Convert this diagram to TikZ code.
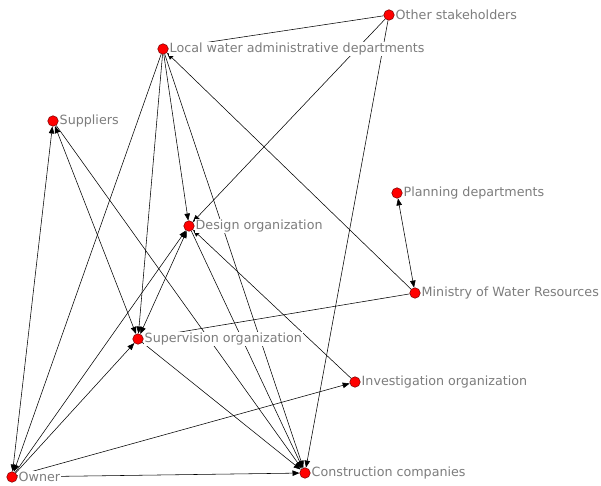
\documentclass[tikz,border=0pt]{standalone}
\usepackage{fontspec}
\newfontfamily\netfont{DejaVu Sans}
\usetikzlibrary{arrows.meta}
\pgfdeclarelayer{ties}
\pgfsetlayers{ties,main}
\definecolor{actorred}{RGB}{255,0,0}
\definecolor{labelgray}{RGB}{125,125,125}
\tikzset{%
  every actor/.style={
    circle,
    draw=red!45!black,
    fill=actorred,
    line width=0.5pt,
    minimum size=10.5pt,
    inner sep=0pt
  },
  actor label/.style={
    fill=white,
    text=labelgray,
    inner sep=1pt,
    font=\netfont\fontsize{12.7}{14}\selectfont
  },
}

\begin{document}
\begin{tikzpicture}[x=1pt,y=-1pt]
    \useasboundingbox (0,0) rectangle (601,486);
    \tikzstyle{tie}=[line width=0.55pt,>={Triangle[length=7pt,width=5.5pt]}]
    \node[every actor,label={[actor label]right:Other stakeholders}](os) at (389,15){};
    \node[every actor,label={[actor label]right:Local water administrative departments}](lw) at (163,49){};
    \node[every actor,label={[actor label]right:Suppliers}](su) at (53,121){};
    \node[every actor,label={[actor label]right:Planning departments}](pd) at (397,193){};
    \node[every actor,label={[actor label]right:Design organization}](do) at (189,226){};
    \node[every actor,label={[actor label]right:Ministry of Water Resources}](mw) at (415,293){};
    \node[every actor,label={[actor label]right:Supervision organization}](so) at (138,339){};
    \node[every actor,label={[actor label]right:Investigation organization}](io) at (355,382){};
    \node[every actor,label={[actor label]right:Owner}](ow) at (12,477){};
    \node[every actor,label={[actor label]right:Construction companies}](cc) at (305,473){};
    \begin{pgfonlayer}{ties}
    \draw[tie,<->] (ow) -- (su);
    \draw[tie,->] (lw) -- (ow);
    \draw[tie,->] (ow) -- (do);
    \draw[tie,->] (ow) -- (so);
    \draw[tie,->] (ow) -- (io);
    \draw[tie,->] (ow) -- (cc);
    \draw[tie,<->] (su) -- (so);
    \draw[tie,->] (su) -- (cc);
    \draw[tie,->] (lw) -- (so);
    \draw[tie,->] (lw) -- (do);
    \draw[tie,->] (lw) -- (cc);
    \draw[tie] (lw) -- (os);
    \draw[tie,->] (os) -- (do);
    \draw[tie,->] (os) -- (cc);
    \draw[tie,->] (mw) -- (lw);
    \draw[tie,<->] (mw) -- (pd);
    \draw[tie,->] (mw) -- (so);
    \draw[tie,<->] (so) -- (do);
    \draw[tie,->] (do) -- (cc);
    \draw[tie,->] (io) -- (do);
    \draw[tie,->] (so) -- (cc);
    \end{pgfonlayer}
\end{tikzpicture}
\end{document}
